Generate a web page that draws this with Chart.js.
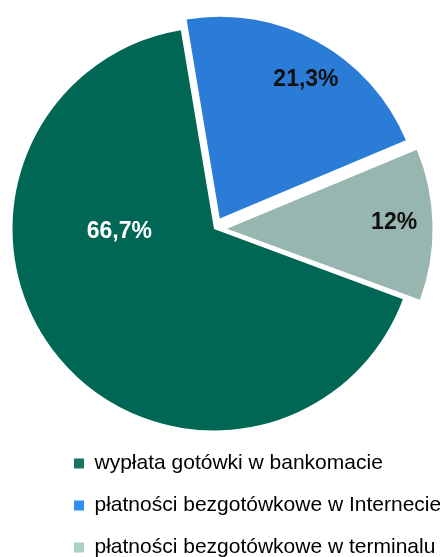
<!DOCTYPE html>
<html>
<head>
<meta charset="utf-8">
<script src="https://cdn.jsdelivr.net/npm/chart.js@4"></script>
<style>
  html, body { margin: 0; padding: 0; background: #fff; overflow: hidden; }
  canvas { display: block; }
</style>
</head>
<body>
<canvas id="chart" width="440" height="568"></canvas>
<script>
// Data
const categories = [
  "wypłata gotówki w bankomacie",
  "płatności bezgotówkowe w Internecie",
  "płatności bezgotówkowe w terminalu"
];
const shares = [66.7, 21.3, 12];

// Colours
const sliceColors = ["#006754", "#2a7cd6", "#97b6af"];
const legendColors = ["#1b7262", "#2f8ff2", "#aad1ca"];
const labelColors = ["#ffffff", "#111111", "#111111"];

const font = "'Liberation Sans', Arial, sans-serif";

// "66.7" -> "66,7%"
function formatShare(v) {
  return String(v).replace(".", ",") + "%";
}

// Percent labels inside the slices
const sliceLabels = {
  id: "sliceLabels",
  afterLayout(chart) {
    // let the legend text run to the right edge of the canvas
    chart.legend.right = chart.width;
    chart.legend.width = chart.legend.right - chart.legend.left;
  },
  afterDatasetsDraw(chart, args, opts) {
    const ctx = chart.ctx;
    const meta = chart.getDatasetMeta(0);
    meta.data.forEach((arc, i) => {
      const p = arc.getProps(["x", "y", "startAngle", "endAngle", "outerRadius"], true);
      const mid = (p.startAngle + p.endAngle) / 2;
      const shift = (arc.options.offset || 0) / 4;
      const cx = p.x + Math.cos(mid) * shift;
      const cy = p.y + Math.sin(mid) * shift;
      const a = mid + opts.angleShift[i] * Math.PI / 180;
      const r = p.outerRadius * opts.distance[i];
      ctx.save();
      ctx.font = "bold 23px " + font;
      ctx.fillStyle = labelColors[i];
      ctx.textAlign = "center";
      ctx.textBaseline = "middle";
      ctx.fillText(formatShare(shares[i]), cx + Math.cos(a) * r, cy + Math.sin(a) * r);
      ctx.restore();
    });
  }
};

new Chart(document.getElementById("chart"), {
  type: "pie",
  data: {
    labels: categories,
    datasets: [{
      data: shares,
      backgroundColor: sliceColors,
      borderWidth: 0,
      offset: [0, 48, 52]
    }]
  },
  options: {
    responsive: false,
    animation: false,
    rotation: 110.4,
    radius: 201.5,
    layout: { padding: { top: 26, left: 53, right: 65, bottom: 0 } },
    plugins: {
      legend: {
        position: "bottom",
        align: "start",
        labels: {
          boxWidth: 10,
          boxHeight: 10,
          padding: 21,
          color: "#1a1a1a",
          font: { family: font, size: 21 },
          generateLabels: () => categories.map((text, i) => ({
            text,
            fillStyle: legendColors[i],
            strokeStyle: legendColors[i],
            lineWidth: 0,
            hidden: false,
            index: i
          }))
        }
      },
      tooltip: { enabled: false },
      sliceLabels: {
        angleShift: [38, 3, -1],
        distance: [0.47, 0.81, 0.83]
      }
    }
  },
  plugins: [sliceLabels]
});
</script>
</body>
</html>
